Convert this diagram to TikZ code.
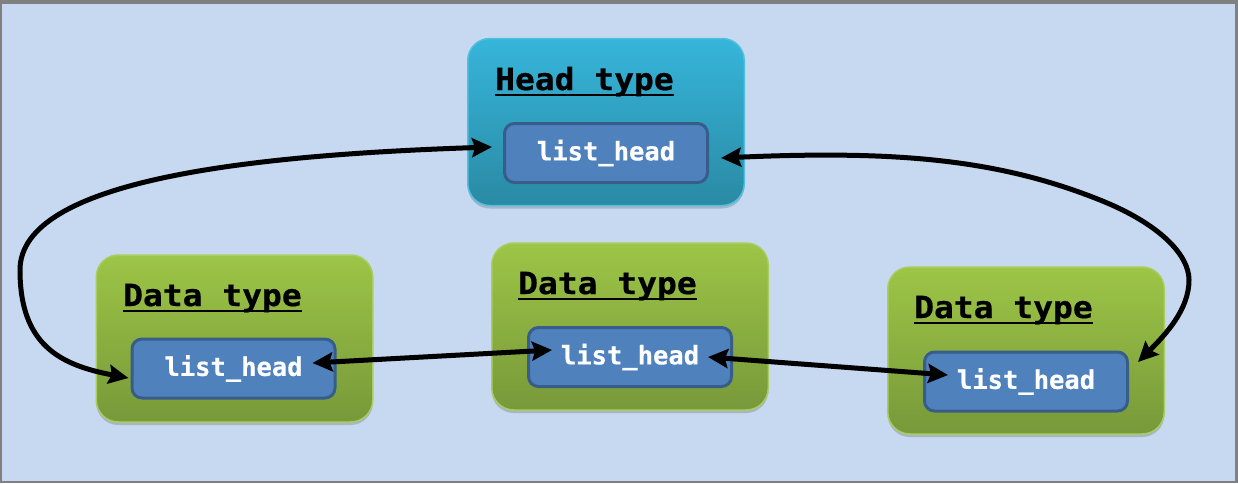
\documentclass[tikz,border=0pt]{standalone}
\usepackage{fontspec}
\usetikzlibrary{arrows.meta,shadows}
\newfontfamily\titlefont[FakeStretch=1.08,FakeBold=0.6]{DejaVu Sans Mono Bold}
\newfontfamily\fieldfont[FakeBold=0.5]{DejaVu Sans Mono Bold}
\definecolor{bgblue}{HTML}{C6D9F1}
\definecolor{framegray}{HTML}{808080}
\definecolor{greentop}{HTML}{9DC546}
\definecolor{greenbot}{HTML}{77993A}
\definecolor{greenedge}{HTML}{A9CD5E}
\definecolor{headtop}{HTML}{36B5DA}
\definecolor{headbot}{HTML}{2A8AA4}
\definecolor{headedge}{HTML}{4FC0DE}
\definecolor{fieldfill}{HTML}{4F81BD}
\definecolor{fieldedge}{HTML}{385D8A}
\tikzset{
  outerbox/.style={rounded corners=22pt, minimum width=276.5pt, minimum height=167pt,
    inner sep=0pt, line width=1.5pt,
    drop shadow={shadow xshift=0pt, shadow yshift=-3pt, opacity=0.25, fill=black!70}},
  databox/.style={outerbox, draw=greenedge, top color=greentop, bottom color=greenbot},
  headbox/.style={outerbox, draw=headedge, top color=headtop, bottom color=headbot},
  fieldbox/.style={rounded corners=10pt, minimum width=203pt, minimum height=59pt,
    inner sep=0pt, fill=fieldfill, draw=fieldedge, line width=3pt, text=white,
    font=\fieldfont\fontsize{25.5}{30}\selectfont},
  titletext/.style={inner sep=0pt, anchor=base west, text=black,
    font=\titlefont\fontsize{30.5}{36}\selectfont},
  uline/.style={line width=2pt, black},
  link/.style={line width=5pt, black,
    {Stealth[length=20pt,width=19pt,inset=3pt]}-{Stealth[length=20pt,width=19pt,inset=3pt]}},
}
\begin{document}
\begin{tikzpicture}[x=1pt,y=-1pt]
\useasboundingbox (0,0) rectangle (1238,483);
\fill[framegray] (0,0) rectangle (1238,483);
\fill[bgblue] (2,4) rectangle (1235,480.5);

% boxes
\node[headbox] (h) at (606,122) {};
\node[databox] (d1) at (234.5,338.5) {};
\node[databox] (d2) at (630,326.5) {};
\node[databox] (d3) at (1026,350.5) {};

% titles
\node[titletext] (ht) at (495,90) {Head type};
\node[titletext] (d1t) at (123,306) {Data type};
\node[titletext] (d2t) at (518,294) {Data type};
\node[titletext] (d3t) at (914,318) {Data type};
\foreach \t in {ht,d1t,d2t,d3t}
  \draw[uline] ([yshift=-4.5pt]\t.base west) -- ([yshift=-4.5pt]\t.base east);

% fields
\node[fieldbox] (hl) at (606,153) {list\_head};
\node[fieldbox] (d1l) at (233.5,368.5) {list\_head};
\node[fieldbox] (d2l) at (630,357) {list\_head};
\node[fieldbox] (d3l) at (1026,381.5) {list\_head};

% links
\draw[link] ([shift={(-24,-5.5)}]d1l.east) -- ([shift={(25,-7)}]d2l.west);
\draw[link] ([shift={(-25,0)}]d2l.east) -- ([shift={(25,-6.5)}]d3l.west);

\coordinate (cl) at (20,270);
\draw[link] ([shift={(-11,-6)}]hl.west) .. controls (250,155) and (20,180) .. (cl)
  .. controls (20,345) and (60,365) .. ([shift={(-2,9.5)}]d1l.west);

\coordinate (cr1) at (1100,200);
\coordinate (cr2) at (1189,280);
\draw[link] ([shift={(12,5)}]hl.east) .. controls (900,150) and (1000,160) .. (cr1)
  .. controls (1160,224) and (1189,255) .. (cr2)
  .. controls (1189,310) and (1165,335) .. ([shift={(9,-19.5)}]d3l.east);
\end{tikzpicture}
\end{document}
